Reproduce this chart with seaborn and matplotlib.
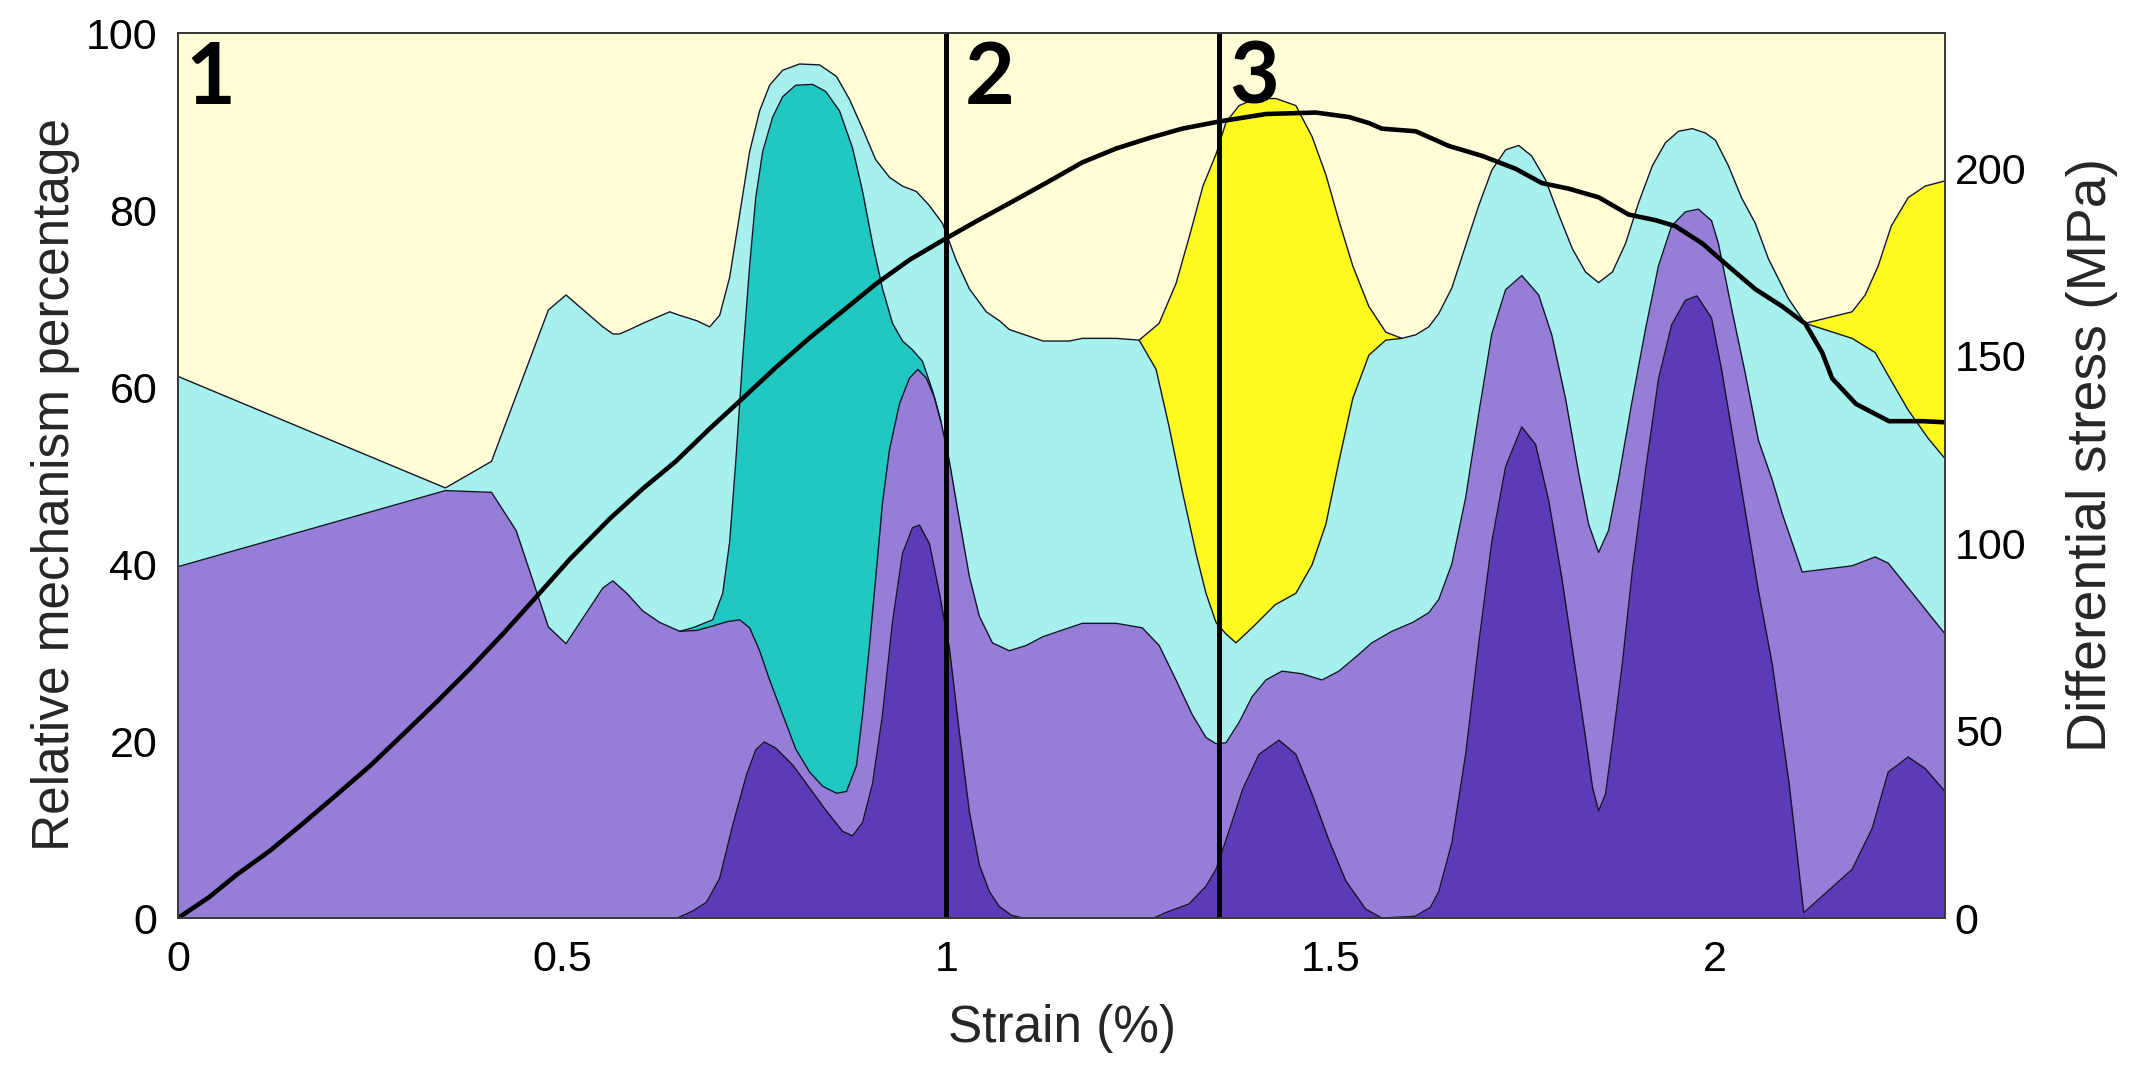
import matplotlib
matplotlib.use("Agg")
import matplotlib.pyplot as plt
import seaborn as sns

# ---------------- data ----------------
# Cumulative upper edge (%) of each stacked mechanism band, bottom to top.
# Band 1 (dark purple)
strain_dark = [0.000, 0.650, 0.670, 0.688, 0.705, 0.722, 0.740, 0.752, 0.763, 0.778,
               0.800, 0.822, 0.843, 0.865, 0.878, 0.891, 0.904, 0.917, 0.930, 0.943,
               0.956, 0.965, 0.978, 0.991, 1.004, 1.017, 1.030, 1.043, 1.056, 1.069,
               1.085, 1.100, 1.270, 1.285, 1.316, 1.338, 1.351, 1.364, 1.386, 1.407,
               1.433, 1.455, 1.476, 1.498, 1.520, 1.546, 1.567, 1.610, 1.630, 1.641,
               1.658, 1.676, 1.693, 1.710, 1.728, 1.749, 1.767, 1.784, 1.801, 1.819,
               1.832, 1.841, 1.849, 1.858, 1.867, 1.880, 1.893, 1.910, 1.927, 1.944,
               1.962, 1.977, 1.996, 2.009, 2.026, 2.044, 2.057, 2.075, 2.097, 2.116,
               2.179, 2.205, 2.226, 2.252, 2.274, 2.300]
edge_dark = [0.0, 0.0, 0.8, 1.8, 4.5, 10.5, 16.2, 19.0, 19.9, 19.2,
             17.3, 14.7, 12.2, 9.8, 9.3, 10.8, 15.2, 23.0, 33.5, 41.2,
             44.1, 44.4, 42.3, 36.7, 30.5, 21.0, 12.0, 6.0, 3.0, 1.3,
             0.3, 0.0, 0.0, 0.6, 1.6, 3.6, 5.5, 8.8, 14.6, 18.5,
             20.1, 18.5, 14.0, 8.8, 4.2, 1.0, 0.0, 0.2, 1.2, 3.0,
             8.5, 18.5, 31.0, 42.5, 51.0, 55.5, 53.5, 47.2, 38.5, 28.0,
             20.4, 14.8, 12.1, 14.0, 19.8, 28.8, 39.3, 50.5, 60.9, 67.0,
             69.8, 70.3, 67.8, 62.0, 53.2, 43.8, 37.0, 28.7, 15.2, 0.6,
             5.5, 10.1, 16.5, 18.2, 16.9, 14.3]

# Band 2 (medium purple)
strain_mid = [0.000, 0.348, 0.408, 0.440, 0.482, 0.505, 0.553, 0.566, 0.584, 0.605,
              0.627, 0.653, 0.675, 0.696, 0.715, 0.731, 0.744, 0.757, 0.770, 0.787,
              0.804, 0.822, 0.839, 0.857, 0.870, 0.883, 0.891, 0.900, 0.909, 0.917,
              0.926, 0.939, 0.952, 0.963, 0.974, 0.985, 0.993, 1.004, 1.017, 1.030,
              1.043, 1.060, 1.082, 1.104, 1.126, 1.160, 1.177, 1.221, 1.255, 1.277,
              1.299, 1.320, 1.338, 1.351, 1.364, 1.381, 1.398, 1.416, 1.437, 1.463,
              1.489, 1.511, 1.533, 1.554, 1.580, 1.607, 1.628, 1.641, 1.658, 1.676,
              1.693, 1.710, 1.728, 1.749, 1.771, 1.788, 1.806, 1.823, 1.836, 1.849,
              1.862, 1.875, 1.892, 1.910, 1.927, 1.944, 1.962, 1.979, 1.996, 2.005,
              2.023, 2.040, 2.057, 2.075, 2.088, 2.114, 2.179, 2.209, 2.226, 2.252,
              2.300]
edge_mid = [39.7, 48.3, 48.1, 43.8, 32.9, 31.0, 37.3, 38.1, 36.7, 34.7,
            33.4, 32.4, 32.5, 33.0, 33.5, 33.7, 32.8, 30.2, 26.9, 23.0,
            19.1, 16.5, 14.9, 14.1, 14.3, 17.2, 23.0, 30.8, 39.3, 47.0,
            52.9, 58.1, 61.0, 62.0, 61.0, 58.7, 56.1, 51.6, 45.0, 38.6,
            34.1, 31.1, 30.2, 30.8, 31.8, 32.8, 33.3, 33.3, 32.8, 30.8,
            26.9, 23.0, 20.4, 19.7, 19.8, 22.1, 25.0, 26.9, 27.9, 27.6,
            26.9, 27.9, 29.5, 31.1, 32.4, 33.4, 34.5, 36.0, 40.0, 47.5,
            57.0, 66.0, 71.0, 72.6, 70.4, 65.9, 58.7, 50.3, 44.5, 41.3,
            43.8, 49.6, 58.1, 66.5, 73.7, 78.2, 79.8, 80.1, 78.8, 76.2,
            68.5, 61.5, 54.0, 49.5, 45.7, 39.1, 39.8, 40.8, 40.1, 37.3,
            32.1]

# Band 3 (teal) - only non-zero between these strains
strain_teal = [0.653, 0.670, 0.696, 0.709, 0.718, 0.726, 0.735, 0.744, 0.752, 0.761,
               0.774, 0.787, 0.804, 0.826, 0.843, 0.861, 0.878, 0.891, 0.904, 0.917,
               0.930, 0.943, 0.956, 0.969, 0.982, 0.993]
edge_teal = [32.4, 32.8, 33.7, 36.7, 42.5, 51.6, 63.3, 73.7, 81.4, 86.6,
             90.5, 92.8, 94.1, 94.2, 93.4, 91.2, 87.0, 82.1, 76.2, 71.1,
             67.2, 65.2, 64.2, 62.9, 59.6, 56.1]

# Band 4 (light cyan)
strain_cyan = [0.000, 0.348, 0.408, 0.482, 0.505, 0.553, 0.566, 0.575, 0.588, 0.605,
               0.640, 0.653, 0.675, 0.692, 0.705, 0.718, 0.731, 0.744, 0.757, 0.770,
               0.787, 0.809, 0.835, 0.857, 0.874, 0.891, 0.908, 0.926, 0.943, 0.961,
               0.978, 0.995, 1.013, 1.030, 1.052, 1.069, 1.082, 1.126, 1.160, 1.177,
               1.221, 1.251, 1.273, 1.290, 1.307, 1.325, 1.338, 1.351, 1.364, 1.377,
               1.398, 1.428, 1.455, 1.476, 1.494, 1.511, 1.529, 1.550, 1.572, 1.593,
               1.611, 1.628, 1.641, 1.658, 1.676, 1.693, 1.710, 1.728, 1.745, 1.762,
               1.780, 1.797, 1.815, 1.832, 1.849, 1.867, 1.884, 1.901, 1.919, 1.936,
               1.953, 1.971, 1.988, 2.001, 2.018, 2.035, 2.053, 2.070, 2.096, 2.118,
               2.179, 2.209, 2.226, 2.252, 2.278, 2.300]
edge_cyan = [61.2, 48.6, 51.6, 68.7, 70.4, 66.8, 66.0, 66.0, 66.5, 67.2,
             68.5, 68.1, 67.5, 66.8, 68.1, 72.4, 79.5, 86.6, 91.2, 94.1,
             95.8, 96.5, 96.4, 95.1, 92.5, 89.2, 85.7, 83.7, 82.7, 82.1,
             80.5, 78.5, 74.3, 71.1, 68.5, 67.5, 66.5, 65.2, 65.2, 65.5,
             65.5, 65.3, 62.0, 55.5, 48.3, 41.2, 36.7, 33.4, 32.1, 31.1,
             32.8, 35.4, 36.7, 39.9, 44.5, 51.6, 58.7, 63.6, 65.3, 65.5,
             65.9, 66.8, 68.3, 71.2, 76.0, 80.5, 84.5, 86.8, 87.3, 86.1,
             83.4, 79.5, 75.6, 73.0, 71.8, 73.0, 76.2, 80.8, 85.0, 87.6,
             88.9, 89.2, 88.7, 87.9, 85.0, 81.4, 78.5, 74.5, 70.0, 67.2,
             65.5, 63.9, 61.3, 57.4, 54.2, 51.9]

# Band 5 (yellow) - two intervals where it is non-zero
strain_yellow_a = [1.251, 1.277, 1.299, 1.316, 1.334, 1.351, 1.364, 1.381, 1.403, 1.429,
                   1.455, 1.476, 1.494, 1.511, 1.529, 1.550, 1.572, 1.593]
edge_yellow_a = [65.3, 67.2, 71.7, 76.9, 82.7, 86.3, 89.9, 91.8, 92.6, 92.6,
                 91.8, 88.3, 84.0, 78.8, 73.7, 69.1, 66.2, 65.5]
strain_yellow_b = [2.118, 2.179, 2.196, 2.213, 2.230, 2.252, 2.274, 2.300]
edge_yellow_b = [67.2, 68.5, 70.4, 73.7, 78.2, 81.4, 82.7, 83.3]

# Differential stress curve (right axis)
strain_stress = [0.000, 0.040, 0.076, 0.120, 0.163, 0.206, 0.250, 0.293, 0.336, 0.380,
                 0.423, 0.467, 0.510, 0.562, 0.605, 0.648, 0.692, 0.735, 0.779, 0.822,
                 0.866, 0.909, 0.952, 0.995, 1.039, 1.082, 1.134, 1.177, 1.221, 1.264,
                 1.307, 1.355, 1.416, 1.481, 1.524, 1.550, 1.567, 1.611, 1.654, 1.698,
                 1.741, 1.775, 1.810, 1.849, 1.888, 1.923, 1.949, 1.984, 2.018, 2.053,
                 2.088, 2.118, 2.140, 2.153, 2.184, 2.227, 2.271, 2.300]
stress_mpa = [0.0, 5.5, 11.5, 18.0, 25.3, 32.8, 40.6, 49.0, 57.5, 66.5,
              75.8, 85.8, 95.7, 106.5, 114.5, 121.8, 130.5, 138.6, 147.0, 154.7,
              162.0, 169.2, 175.5, 180.7, 185.8, 190.6, 196.5, 201.5, 205.2, 208.0,
              210.5, 212.4, 214.4, 214.8, 213.6, 212.0, 210.5, 209.8, 205.9, 203.2,
              199.8, 196.0, 194.5, 192.2, 187.6, 186.1, 184.5, 179.9, 173.8, 167.7,
              163.1, 158.5, 150.8, 143.9, 137.1, 132.5, 132.5, 132.2]

stage_strains = [1.0, 1.355]
stage_labels = ["1", "2", "3"]
stage_label_x = [0.010, 1.024, 1.368]

x_ticks = [0, 0.5, 1, 1.5, 2]
x_ticklabels = ["0", "0.5", "1", "1.5", "2"]
left_ticks = [0, 20, 40, 60, 80, 100]
right_ticks = [0, 50, 100, 150, 200]

# ---------------- style ----------------
sns.set_style("white")
plt.rcParams["font.family"] = ["Liberation Sans", "DejaVu Sans"]

c_top = "#FFFDD6"
c_yellow = "#FFFA1E"
c_cyan = "#A6F0EE"
c_teal = "#1FC8C0"
c_mid = "#967DD7"
c_dark = "#5C3BB8"
c_edge = "#15152a"

fig = plt.figure(figsize=(21.45, 10.69), dpi=100)
ax = fig.add_axes([0.0830, 0.1412, 0.8238, 0.8279])
ax.set_facecolor(c_top)

# painter's order: highest cumulative edge first
ax.fill_between(strain_yellow_a, 0, edge_yellow_a, color=c_yellow, lw=0, zorder=1)
ax.fill_between(strain_yellow_b, 0, edge_yellow_b, color=c_yellow, lw=0, zorder=1)
ax.fill_between(strain_cyan, 0, edge_cyan, color=c_cyan, lw=0, zorder=2)
ax.fill_between(strain_teal, 0, edge_teal, color=c_teal, lw=0, zorder=3)
ax.fill_between(strain_mid, 0, edge_mid, color=c_mid, lw=0, zorder=4)
ax.fill_between(strain_dark, 0, edge_dark, color=c_dark, lw=0, zorder=5)

for xs, ys in [(strain_yellow_a, edge_yellow_a), (strain_yellow_b, edge_yellow_b),
               (strain_cyan, edge_cyan), (strain_teal, edge_teal),
               (strain_mid, edge_mid), (strain_dark, edge_dark)]:
    sns.lineplot(x=xs, y=ys, ax=ax, color=c_edge, linewidth=1.0,
                 estimator=None, sort=False, zorder=6)

for s in stage_strains:
    ax.axvline(s, color="black", linewidth=3.6, zorder=7)

for lx, lab in zip(stage_label_x, stage_labels):
    ax.text(lx, 92.0, lab, fontfamily=["Lato", "DejaVu Sans"], fontweight="bold",
            fontsize=62, ha="left", va="baseline", color="black", zorder=8)

ax.set_xlim(0, 2.3)
ax.set_ylim(0, 100)
ax.set_xticks(x_ticks)
ax.set_xticklabels(x_ticklabels)
ax.set_yticks(left_ticks)
ax.tick_params(axis="both", length=0, labelsize=31, colors="black")
ax.tick_params(axis="y", pad=15)
ax.tick_params(axis="x", pad=16)
ax.set_xlabel("Strain (%)", fontsize=37, labelpad=17)
ax.set_ylabel("Relative mechanism percentage", fontsize=37)
ax.yaxis.set_label_coords(-0.0555, 0.49)

ax2 = ax.twinx()
sns.lineplot(x=strain_stress, y=stress_mpa, ax=ax2, color="black", linewidth=3.3,
             estimator=None, sort=False)
ax2.set_ylim(0, 236)
ax2.set_yticks(right_ticks)
ax2.tick_params(axis="y", length=0, labelsize=31, pad=7, colors="black")
ax2.set_ylabel("Differential stress (MPa)", fontsize=40)
ax2.yaxis.set_label_coords(1.0685, 0.523)

for a in (ax, ax2):
    for sp in a.spines.values():
        sp.set_visible(True)
        sp.set_color("#3a3a3a")
        sp.set_linewidth(1.4)

fig.savefig("out.png", dpi=100)
